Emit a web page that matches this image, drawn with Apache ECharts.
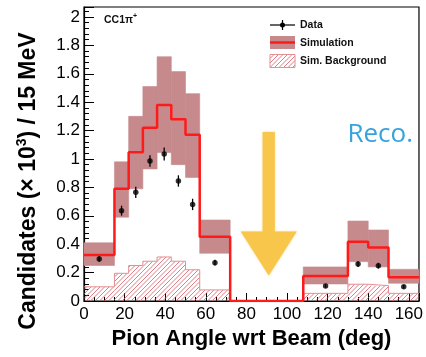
<!DOCTYPE html>
<html>
<head>
<meta charset="utf-8">
<script src="https://cdn.jsdelivr.net/npm/echarts@6/dist/echarts.min.js"></script>
<style>
  html, body { margin: 0; padding: 0; background: #fff; }
  #chart { width: 426px; height: 357px; }
</style>
</head>
<body>
<div id="chart"></div>
<script>
// Bin edges of the pion angle histogram (degrees)
const binEdges = [0, 15, 22, 29, 36, 43, 50, 57, 72, 108, 130, 140, 150, 165];

// Simulation (central value) per bin, in units of 10^3 candidates
const simValues = [0.324, 0.79, 1.047, 1.22, 1.38, 1.28, 1.17, 0.453, 0, 0.176, 0.418, 0.376, 0.167];
// Simulation uncertainty band (lower / upper edge) per bin
const simBandLow = [0.25, 0.59, 0.79, 0.93, 1.045, 0.96, 0.87, 0.336, 0, 0.12, 0.277, 0.24, 0.125];
const simBandHigh = [0.41, 0.98, 1.30, 1.51, 1.72, 1.615, 1.46, 0.57, 0, 0.24, 0.563, 0.50, 0.223];
// Simulated background per bin
const simBackground = [0.10, 0.195, 0.25, 0.28, 0.31, 0.28, 0.22, 0.078, 0, 0.054, 0.118, 0.108, 0.054];

// Measured data points (bin centres), values and statistical errors
const dataAngles = [7.5, 18.5, 25.5, 32.5, 39.5, 46.5, 53.5, 64.5, 119, 135, 145, 157.5];
const dataValues = [0.296, 0.636, 0.765, 0.986, 1.035, 0.845, 0.68, 0.27, 0.106, 0.26, 0.249, 0.10];
const dataErrors = [0.02, 0.035, 0.04, 0.04, 0.045, 0.04, 0.04, 0.02, 0.012, 0.02, 0.02, 0.012];

// Axis ticks
const xTickStep = 20;
const yTickStep = 0.2;

const BAND_COLOR = '#c68a8d';
const SIM_RED = '#ff1a1a';
const HATCH_EDGE = '#e38f94';
const HATCH_LINE = '#d9535e';
const HATCH_STEP = 4.5;
const FONT = '"Liberation Sans", Arial, Helvetica, sans-serif';

// "/" hatch segments (x + y = const) clipped to a pixel rectangle
function hatchSegments(x0, y0, x1, y1, step) {
  const out = [];
  const start = Math.ceil((x0 + y0) / step) * step;
  for (let c = start; c <= x1 + y1; c += step) {
    const xa = Math.max(x0, c - y1);
    const xb = Math.min(x1, c - y0);
    if (xb > xa) {
      out.push({
        type: 'line',
        shape: { x1: xa, y1: c - xa, x2: xb, y2: c - xb },
        style: { stroke: HATCH_LINE, lineWidth: 0.9, opacity: 0.85 }
      });
    }
  }
  return out;
}

// Step outline of a histogram: horizontal segment across each bin
function stepLine(values) {
  const pts = [];
  for (let i = 0; i < values.length; i++) {
    pts.push([binEdges[i], values[i]]);
    pts.push([binEdges[i + 1], values[i]]);
  }
  return pts;
}

const bandBins = simValues.map((_, i) => [binEdges[i], binEdges[i + 1], simBandLow[i], simBandHigh[i]]);
const bkgBins = simBackground.map((v, i) => [binEdges[i], binEdges[i + 1], v]);
const dataPoints = dataAngles.map((a, i) => [a, dataValues[i], dataErrors[i]]);

const chart = echarts.init(document.getElementById('chart'), null, { renderer: 'canvas' });

chart.setOption({
  animation: false,
  backgroundColor: '#ffffff',
  textStyle: { fontFamily: FONT },
  grid: {
    left: 84, right: 5, top: 7, bottom: 56,
    show: true, borderColor: '#000', borderWidth: 1.2, backgroundColor: 'transparent'
  },
  xAxis: {
    type: 'value',
    min: 0, max: 165, interval: xTickStep,
    axisLine: { show: true, onZero: false, lineStyle: { color: '#000', width: 1.2 } },
    axisTick: { show: true, inside: true, length: 8, lineStyle: { color: '#000', width: 1 } },
    minorTick: { show: true, splitNumber: 4, length: 4, lineStyle: { color: '#000', width: 1 } },
    splitLine: { show: false },
    axisLabel: { color: '#000', fontSize: 17, fontFamily: FONT, margin: 5, showMaxLabel: false },
    name: 'Pion Angle wrt Beam (deg)',
    nameLocation: 'middle',
    nameGap: 27,
    nameTextStyle: { color: '#000', fontSize: 22, fontWeight: 'bold', fontFamily: FONT }
  },
  yAxis: {
    type: 'value',
    min: 0, max: 2.07, interval: yTickStep,
    axisLine: { show: true, onZero: false, lineStyle: { color: '#000', width: 1.2 } },
    axisTick: { show: true, inside: true, length: 10, lineStyle: { color: '#000', width: 1 } },
    minorTick: { show: true, splitNumber: 5, length: 5, lineStyle: { color: '#000', width: 1 } },
    splitLine: { show: false },
    axisLabel: { color: '#000', fontSize: 17, fontFamily: FONT, margin: 4, showMaxLabel: false }
  },
  series: [
    {
      // simulated background: hatched bins
      type: 'custom',
      data: bkgBins,
      encode: { x: [0, 1], y: 2 },
      renderItem: function (params, api) {
        const x0 = api.value(0), x1 = api.value(1), v = api.value(2);
        if (v <= 0) return null;
        const a = api.coord([x0, v]);
        const b = api.coord([x1, 0]);
        return { type: 'group', children: hatchSegments(a[0], a[1], b[0], b[1], HATCH_STEP) };
      },
      z: 1
    },
    {
      // simulated background: outline
      type: 'line',
      data: stepLine(simBackground),
      symbol: 'none',
      lineStyle: { color: HATCH_EDGE, width: 1 },
      z: 1
    },
    {
      // simulation uncertainty band
      type: 'custom',
      data: bandBins,
      encode: { x: [0, 1], y: [2, 3] },
      renderItem: function (params, api) {
        const x0 = api.value(0), x1 = api.value(1), lo = api.value(2), hi = api.value(3);
        if (hi <= lo) return null;
        const a = api.coord([x0, hi]);
        const b = api.coord([x1, lo]);
        return {
          type: 'rect',
          shape: { x: a[0], y: a[1], width: b[0] - a[0], height: b[1] - a[1] },
          style: { fill: BAND_COLOR, stroke: BAND_COLOR, lineWidth: 0.6 }
        };
      },
      z: 2
    },
    {
      // simulation central value
      type: 'line',
      data: stepLine(simValues),
      symbol: 'none',
      lineStyle: { color: SIM_RED, width: 2.5 },
      z: 3
    },
    {
      // data error bars
      type: 'custom',
      data: dataPoints,
      encode: { x: 0, y: 1 },
      renderItem: function (params, api) {
        const x = api.value(0), y = api.value(1), e = api.value(2);
        const top = api.coord([x, y + e]);
        const bot = api.coord([x, y - e]);
        return {
          type: 'line',
          shape: { x1: top[0], y1: top[1], x2: bot[0], y2: bot[1] },
          style: { stroke: '#000', lineWidth: 1.3 }
        };
      },
      z: 4
    },
    {
      // data points
      type: 'scatter',
      data: dataPoints.map(p => [p[0], p[1]]),
      symbol: 'circle',
      symbolSize: 5.5,
      itemStyle: { color: '#000' },
      z: 5
    }
  ]
});

// Annotation arrow pointing at the empty angular region (data units)
const arrowX = 91, arrowTop = 1.19, arrowNeck = 0.49, arrowTip = 0.18;
const shaftHalf = 3, headHalf = 13.8;
const px = (x, y) => chart.convertToPixel({ gridIndex: 0 }, [x, y]);
const arrowPts = [
  px(arrowX - shaftHalf, arrowTop),
  px(arrowX + shaftHalf, arrowTop),
  px(arrowX + shaftHalf, arrowNeck),
  px(arrowX + headHalf, arrowNeck),
  px(arrowX, arrowTip),
  px(arrowX - headHalf, arrowNeck),
  px(arrowX - shaftHalf, arrowNeck)
];

const legendText = { fontFamily: FONT, fontSize: 10.5, fontWeight: 'bold', fill: '#111', verticalAlign: 'middle' };

chart.setOption({
  graphic: [
    // channel label
    {
      type: 'text', x: 104, y: 20,
      style: {
        text: '{m|CC1π}{s|+}',
        verticalAlign: 'middle',
        rich: {
          m: { fontFamily: FONT, fontSize: 10.5, fontWeight: 'bold', fill: '#111', lineHeight: 14 },
          s: { fontFamily: FONT, fontSize: 7, fontWeight: 'bold', fill: '#111', verticalAlign: 'top', lineHeight: 8 }
        }
      }
    },
    // y axis title
    {
      type: 'text', x: 29, y: 181, rotation: Math.PI / 2,
      style: {
        text: '{b|Candidates (× 10}{s|3}{b|) / 15 MeV}',
        align: 'center', verticalAlign: 'middle',
        rich: {
          b: { fontFamily: FONT, fontSize: 23, fontWeight: 'bold', fill: '#000', lineHeight: 28 },
          s: { fontFamily: FONT, fontSize: 14, fontWeight: 'bold', fill: '#000', verticalAlign: 'top', lineHeight: 15 }
        }
      }
    },
    // legend: data
    { type: 'line', shape: { x1: 270, y1: 25, x2: 295, y2: 25 }, style: { stroke: '#000', lineWidth: 1.2 } },
    { type: 'line', shape: { x1: 282.5, y1: 20, x2: 282.5, y2: 30 }, style: { stroke: '#000', lineWidth: 1.2 } },
    { type: 'circle', shape: { cx: 282.5, cy: 25, r: 2.5 }, style: { fill: '#000' } },
    { type: 'text', x: 300, y: 25, style: Object.assign({ text: 'Data' }, legendText) },
    // legend: simulation
    { type: 'rect', shape: { x: 270, y: 36, width: 25, height: 13 }, style: { fill: BAND_COLOR } },
    { type: 'line', shape: { x1: 270, y1: 42.5, x2: 295, y2: 42.5 }, style: { stroke: SIM_RED, lineWidth: 2.5 } },
    { type: 'text', x: 300, y: 43, style: Object.assign({ text: 'Simulation' }, legendText) },
    // legend: background
    { type: 'group', children: hatchSegments(270, 54.5, 295, 67.5, HATCH_STEP) },
    { type: 'rect', shape: { x: 270, y: 54.5, width: 25, height: 13 }, style: { fill: 'none', stroke: HATCH_EDGE, lineWidth: 1 } },
    { type: 'text', x: 300, y: 61, style: Object.assign({ text: 'Sim. Background' }, legendText) },
    // reconstruction tag
    {
      type: 'text', x: 413, y: 135,
      style: {
        text: 'Reco.', align: 'right', verticalAlign: 'middle',
        fontFamily: '"Open Sans", Lato, sans-serif', fontSize: 26, fill: '#36a3dd'
      }
    },
    // annotation arrow
    {
      type: 'polygon', z: 10,
      shape: { points: arrowPts },
      style: { fill: '#f9c54a', opacity: 0.95, shadowBlur: 2, shadowColor: 'rgba(249,197,74,0.8)' }
    }
  ]
});
</script>
</body>
</html>
